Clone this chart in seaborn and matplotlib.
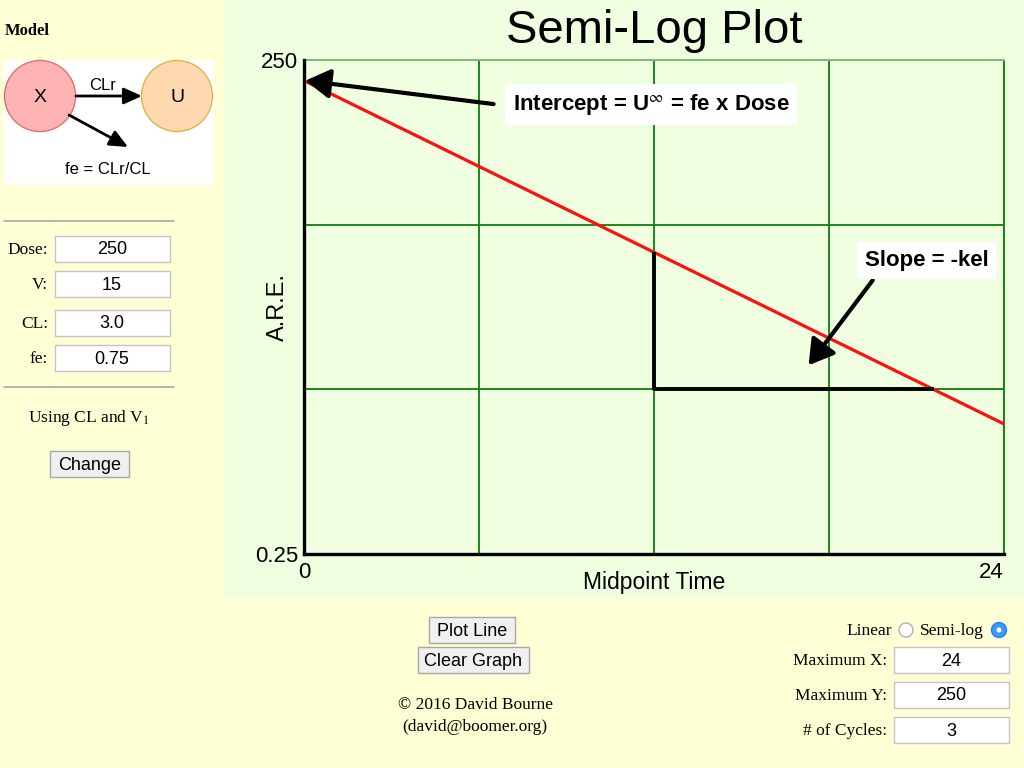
import matplotlib
matplotlib.use('Agg')
import matplotlib.pyplot as plt
import matplotlib.patches as mpatches
import seaborn as sns

# Chart data
time_h = [0, 24]
are_vals = [187.5, 1.54]
tri_time = [12, 12, 21.6]
tri_are = [17.0, 2.5, 2.5]
x_ticks = [0, 6, 12, 18, 24]
x_ticklabels = ['0', '', '', '', '24']
y_ticks = [0.25, 2.5, 25, 250]
y_ticklabels = ['0.25', '', '', '250']

# Form fields around the chart
left_labels = ['Dose:', 'V:', 'CL:', 'fe:']
left_values = ['250', '15', '3.0', '0.75']
right_labels = ['Maximum X:', 'Maximum Y:', '# of Cycles:']
right_values = ['24', '250', '3']

sns.set_theme(style='white')
plt.rcParams['font.family'] = ['Liberation Sans', 'DejaVu Sans']
plt.rcParams['mathtext.fontset'] = 'stix'
plt.rcParams['text.color'] = 'black'
plt.rcParams['axes.labelcolor'] = 'black'

YELLOW = '#FFFFD6'
GREEN_BG = '#F0FFE0'
GRID = '#0A800A'
SERIF = ['Liberation Serif', 'DejaVu Serif']

fig = plt.figure(figsize=(10.24, 7.68), dpi=100, facecolor=YELLOW)

# background layer in pixel coordinates
bg = fig.add_axes([0, 0, 1, 1], zorder=0)
bg.set_xlim(0, 1024)
bg.set_ylim(768, 0)
bg.axis('off')
bg.add_patch(mpatches.Rectangle((224, 0), 800, 598, fc=GREEN_BG, ec='none'))
bg.text(654, 31, 'Semi-Log Plot', fontsize=34, ha='center', va='center')

# ---- model diagram (left panel)
bg.text(5, 31, 'Model', family=SERIF, fontweight='bold', fontsize=12, va='center')
bg.add_patch(mpatches.Rectangle((4, 60), 210, 125, fc='white', ec='none'))
bg.add_patch(mpatches.Circle((40, 96), 35.5, fc='#FFB3B3', ec='#D87272', lw=1))
bg.add_patch(mpatches.Circle((177, 96), 35.5, fc='#FFD8B0', ec='#D9B64A', lw=1))
bg.text(40, 97, 'X', fontsize=14, ha='center', va='center')
bg.text(177, 97, 'U', fontsize=14, ha='center', va='center')
bg.text(103, 86, 'CLr', fontsize=12, ha='center', va='center')
bg.text(108, 170, 'fe = CLr/CL', fontsize=12, ha='center', va='center')
small_arrow = dict(arrowstyle='-|>,head_length=1.0,head_width=0.45', lw=2, color='black',
                   mutation_scale=11, shrinkA=0, shrinkB=0)
bg.annotate('', xy=(142, 96), xytext=(76, 96), arrowprops=small_arrow)
bg.annotate('', xy=(128, 147), xytext=(69, 115), arrowprops=small_arrow)

# ---- input fields (left panel)
for yy in [221, 387]:
    bg.plot([4, 174], [yy, yy], color='#A8A8A8', lw=1.2)
box_tops = [236, 271, 310, 345]
for lab, val, top in zip(left_labels, left_values, box_tops):
    bg.add_patch(mpatches.Rectangle((55, top), 115, 26, fc='white', ec='#C4C4C4', lw=1))
    bg.text(48, top + 14, lab, family=SERIF, fontsize=12.5, ha='right', va='center')
    bg.text(112, top + 14, val, fontsize=13, ha='center', va='center')
bg.text(89, 418, 'Using CL and V$_1$', family=SERIF, fontsize=12.5, ha='center', va='center')


def button(x0, y0, w, h, label):
    bg.add_patch(mpatches.Rectangle((x0, y0), w, h, fc='#F0F0F0', ec='#A8A8A8', lw=1))
    bg.text(x0 + w / 2, y0 + h / 2 + 1, label, fontsize=13, ha='center', va='center')


button(50, 451, 79, 26, 'Change')
button(429, 617, 86, 26, 'Plot Line')
button(418, 647, 111, 26, 'Clear Graph')
bg.text(475, 705, '\u00a9 2016 David Bourne', family=SERIF, fontsize=12.5, ha='center', va='center')
bg.text(475, 727, '(david@boomer.org)', family=SERIF, fontsize=12.5, ha='center', va='center')

# ---- axis options (bottom right)
bg.text(892, 631, 'Linear', family=SERIF, fontsize=12.5, ha='right', va='center')
bg.add_patch(mpatches.Circle((906, 630), 7, fc='white', ec='#B0B0B0', lw=1))
bg.text(920, 631, 'Semi-log', family=SERIF, fontsize=12.5, ha='left', va='center')
bg.add_patch(mpatches.Circle((999, 630), 7.5, fc='#3B99FC', ec='#2A7FE0', lw=1))
bg.add_patch(mpatches.Circle((999, 630), 2.5, fc='white', ec='none'))
for lab, val, top in zip(right_labels, right_values, [647, 682, 717]):
    bg.add_patch(mpatches.Rectangle((894, top), 115, 26, fc='white', ec='#C4C4C4', lw=1))
    bg.text(887, top + 14, lab, family=SERIF, fontsize=12.5, ha='right', va='center')
    bg.text(951, top + 14, val, fontsize=13, ha='center', va='center')

# ---- main semi-log chart
ax = fig.add_axes([304 / 1024, 1 - 554 / 768, 700 / 1024, 494 / 768], zorder=1)
ax.set_facecolor(GREEN_BG)
ax.set_yscale('log')
ax.set_xlim(0, 24)
ax.set_ylim(0.25, 250)
ax.set_xticks(x_ticks)
ax.set_xticklabels(x_ticklabels)
ax.set_yticks(y_ticks)
ax.set_yticklabels(y_ticklabels)
ax.minorticks_off()
ax.tick_params(length=0, labelsize=16, colors='black')
ax.tick_params(axis='y', pad=4)
ax.tick_params(axis='x', pad=6)
ax.get_xticklabels()[-1].set_horizontalalignment('right')
ax.grid(True, color=GRID, lw=1.3)

for side in ['left', 'bottom']:
    ax.spines[side].set_color('black')
    ax.spines[side].set_linewidth(2.4)
    ax.spines[side].set_zorder(5)
ax.spines['top'].set_color('#78C078')
ax.spines['top'].set_linewidth(1.4)
ax.spines['right'].set_color(GRID)
ax.spines['right'].set_linewidth(1.3)

sns.lineplot(x=time_h, y=are_vals, ax=ax, color='#FF1010', lw=2.3, zorder=3)
ax.plot(tri_time, tri_are, color='black', lw=2.8, zorder=3, solid_capstyle='butt')

ax.set_xlabel('Midpoint Time', fontsize=16.5)
ax.xaxis.set_label_coords(0.5, -0.034)
ax.set_ylabel('A.R.E.', fontsize=17)
ax.yaxis.set_label_coords(-0.022, 0.5)

big_arrow = dict(arrowstyle='-|>,head_length=1.0,head_width=0.6', lw=3, color='black',
                 mutation_scale=15, shrinkA=0, shrinkB=0)
ax.annotate('', xy=(0.05, are_vals[0]), xytext=(6.5, 135), arrowprops=big_arrow, zorder=4)
ax.annotate('', xy=(17.3, 3.5), xytext=(19.5, 11.5), arrowprops=big_arrow, zorder=4)

label_box = dict(boxstyle='square,pad=0.35', fc='white', ec='none')
ax.text(11.9, 134, r'Intercept = U$^{\infty}$ = fe x Dose', fontsize=16, fontweight='bold',
        ha='center', va='center', bbox=label_box, zorder=6)
ax.text(21.35, 15.2, 'Slope = -kel', fontsize=16, fontweight='bold',
        ha='center', va='center', bbox=label_box, zorder=6)

fig.savefig('out.png', dpi=100, facecolor=YELLOW)
